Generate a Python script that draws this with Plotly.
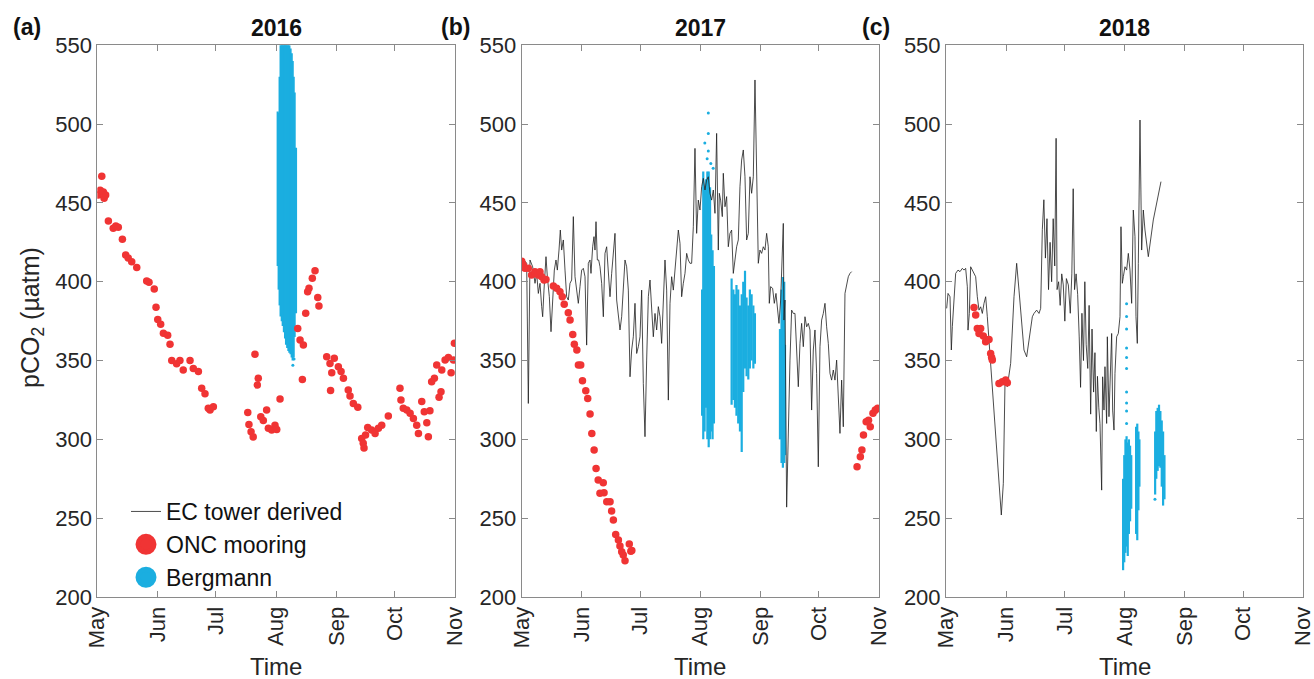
import pandas as pd
import plotly.graph_objects as go

# ---------------- data (days since 1 May of each year) ----------------
# 2016 ONC mooring
a_onc_day = [0.5, 1.5, 2.3, 3.1, 3.5, 4.3, 5.7, 8.2, 9.5, 10.8, 12.9, 14.6, 15.9, 17.7, 20.3,
             25.4, 26.6, 29.3, 30.2, 31.1, 32.6, 34.0, 36.2, 37.4, 38.3, 40.8, 42.5, 44.2, 47.7,
             49.4, 52.0, 53.7, 55.4, 57.1, 58.0, 59.7,
             77.4, 78.0, 79.1, 80.2, 81.1, 82.3, 82.8, 84.1, 85.4, 87.1, 88.0, 89.7, 91.4, 92.3, 94.0,
             103.1, 104.3, 105.5, 106.0, 107.2, 108.2, 108.9, 110.6, 112.0, 113.4, 114.0,
             118.0, 119.7, 120.0, 120.6, 121.9, 124.0, 125.4, 126.6, 129.1, 130.0, 131.7, 134.0,
             136.0, 136.8, 137.2, 138.0, 139.1, 141.1, 142.9, 144.6, 146.3, 149.7,
             155.7, 156.2, 157.4, 159.2, 160.9, 162.6, 164.3, 165.2, 166.9, 168.2, 169.5, 170.3, 171.1,
             172.0, 173.4, 174.6, 175.8, 176.8, 177.2, 178.9, 180.6, 182.0, 183.2, 183.7]
a_onc_val = [455, 458, 467, 457, 453, 455, 438.5, 434, 435.4, 434.5, 427, 417, 415, 412.7, 409,
             400.4, 399.6, 395.4, 383.8, 376, 373, 367.3, 366, 360.3, 350, 348, 350, 344, 350,
             345, 343, 332.4, 329, 319.7, 318.6, 320.7,
             317, 309.5, 304.8, 301.5, 354, 334.5, 338.7, 314.4, 312, 318.6, 307, 306, 309, 306.3, 325.6,
             370.4, 363, 338, 359.8, 380, 393.7, 395.8, 402.2, 407, 390, 384.6,
             352.4, 348.2, 331, 342.3, 351.4, 346, 343, 338.7, 331.3, 327.5, 322.8, 320.3,
             300.6, 297.5, 294.5, 302.7, 307.6, 306, 303.8, 307, 309, 314.8,
             332.4, 325, 319.7, 318.6, 316.5, 313.3, 309, 303.8, 324, 317.5, 310.5, 301.7, 318.2,
             336.6, 338.7, 347.2, 326.7, 330.2, 344, 350.3, 352, 342.3, 350.3, 361]

# 2016 Bergmann (range of the dense band per time step)
a_berg_day = [92.8, 93.3, 93.8, 94.3, 94.9, 95.4, 96.0, 96.6, 97.1, 97.7, 98.3, 98.8, 99.4,
              100.0, 100.5, 101.0, 101.5, 102.2]
a_berg_lo = [410, 395, 385, 378, 375, 372, 368, 364, 360, 358, 356, 355, 354, 352, 350, 352, 365, 380]
a_berg_hi = [508, 507, 530, 560, 560, 560, 560, 560, 560, 560, 555, 550, 548, 545, 540, 530, 520, 485]
a_berg_pt_day = [100.6, 101.2]
a_berg_pt_val = [347, 351]

# 2017 EC tower
b_ec_day = [0.0, 1.19, 2.56, 3.42, 4.27, 5.65, 6.85, 7.71, 8.57, 9.42, 10.28, 10.8, 11.48, 12.51,
            13.2, 14.23, 15.09, 15.95, 16.8, 17.66, 18.35, 19.21, 19.89, 20.58, 21.44, 22.3, 23.16,
            24.01, 24.87, 25.73, 26.59, 27.45, 28.3, 29.16, 30.02, 30.88, 31.74, 32.6, 33.45, 34.31,
            35.17, 35.68, 36.54, 37.23, 37.74, 38.26, 38.95, 39.63, 40.32, 41.18, 42.04, 42.89,
            43.75, 44.61, 45.47, 46.33, 47.19, 48.04, 48.9, 49.76, 50.62, 51.48, 52.34, 53.19,
            54.05, 54.91, 55.77, 56.63, 57.48, 58.34, 59.2, 60.06, 60.92, 61.78, 62.63, 63.49,
            64.35, 65.21, 66.07, 66.93, 67.78, 68.64, 69.5, 70.36, 71.22, 72.07, 72.93, 73.79,
            74.65, 75.51, 76.37, 77.22, 78.08, 78.94, 79.8, 80.66, 81.52, 82.37, 83.23, 84.09,
            84.95, 85.8, 86.66, 87.52, 88.38, 89.23, 90.09, 90.95, 91.81, 92.67, 93.53, 94.38,
            95.24, 96.1, 96.96, 97.82, 98.68, 99.53, 100.39, 101.25, 101.76, 102.45, 103.31,
            103.82, 104.68, 105.54, 106.4, 107.26, 108.11, 108.97, 109.83, 110.69, 111.55, 112.41,
            113.26, 114.12, 114.98, 115.84, 116.7, 117.56, 118.41, 119.27, 120.13, 120.99, 121.85,
            122.7, 123.56, 124.42, 125.28, 126.14, 127.0, 127.51, 128.2, 129.23, 130.08, 130.94,
            131.63, 132.49, 133.35, 134.38, 134.72, 135.06, 135.58, 136.44, 137.3, 138.15, 139.01,
            139.87, 140.73, 141.59, 142.44, 143.3, 144.16, 145.02, 145.88, 146.74, 147.59, 148.45,
            149.31, 150.17, 151.03, 151.88, 152.74, 153.6, 154.46, 155.32, 156.18, 157.03, 157.89,
            158.75, 159.61, 160.47, 161.33, 162.18, 163.04, 163.9, 164.76, 165.62, 166.48, 167.33,
            168.19, 169.05, 169.91]
b_ec_val = [410.6, 413.8, 411.7, 322.8, 413.8, 409.5, 399, 405.3, 392.6, 399, 384.2, 377.8, 394.7, 415.9,
            403.2, 390.5, 368.3, 386.3, 407.4, 413.8, 407.4, 420.1, 432.8, 420.1, 426.5, 407.4, 390.5,
            388.4, 399, 401.1, 441.3, 403.2, 392.6, 386.3, 396.9, 407.4, 408.5, 403.2, 359.8, 411.7,
            413.8, 405.3, 422.2, 428.6, 420.1, 438.1, 413.8, 413.8, 409.5, 399, 377.8, 418,
            422.2, 403.2, 390.5, 405.3, 420.1, 430.7, 388.4, 379.9, 369.4, 377.8, 394.7, 413.8,
            409.5, 394.7, 339.7, 356.7, 365.1, 386.3, 354.5, 358.8, 365.1, 394.7, 335.5, 301.7,
            350.3, 390.5, 401.1, 377.8, 365.1, 379.9, 369.4, 384.2, 377.8, 360.9, 388.4, 413.8,
            394.7, 324.9, 386.3, 403.2, 394.7, 409.5, 420.1, 432.8, 424.3, 390.5, 399, 405.3,
            418, 413.8, 411.7, 411.7, 434.9, 484.6, 430.7, 451.8, 445.5, 460.3, 465.6, 458.2,
            464.5, 466.6, 456.1, 451.8, 458.2, 443.4, 494.1, 420.1, 456.1, 451.8, 441.3,
            468.8, 447.6, 454, 422.2, 430.7, 432.8, 405.3, 413.8, 422.2, 426.5, 460.3,
            477.2, 483.6, 466.6, 426.5, 430.7, 466.6, 456.1, 466.6, 528, 456.1, 411.7,
            420.1, 418, 422.2, 420.1, 430.7, 422.2, 386.3, 396.9, 395.8, 386.3, 392.6,
            383.1, 373.6, 388.4, 434.9, 437, 375.7, 388.4, 257, 308, 350.3, 382,
            379.9, 379.9, 358.8, 333.4, 360.9, 373.6, 358.8, 377.8, 371.4, 373.6, 369.4,
            318.6, 356.7, 369.4, 341.9, 282.6, 358.8, 375.7, 379.9, 386.3, 371.4, 360.9,
            341.9, 337.6, 344, 337.6, 350.3, 324.9, 303.8, 337.6, 308, 392.6, 396.9,
            403.2, 405.3, 406.4]

# 2017 ONC mooring
b_onc_day = [0.0, 0.8, 1.7, 3.4, 5.1, 6.8, 8.5, 9.4, 10.3, 11.5, 12.5, 16.3, 18.0, 19.7, 20.9, 21.9,
             24.0, 24.9, 26.3, 27.1, 28.4, 29.2, 30.4, 31.3, 33.0, 34.0, 35.2, 36.1, 37.3, 38.3,
             39.4, 40.3, 42.0, 42.4, 43.8, 45.5, 46.3, 47.2, 48.4, 49.8, 50.6, 51.5, 52.3, 53.2,
             55.4, 56.2, 56.7,
             172.7, 174.4, 175.2, 176.0, 177.4, 178.6, 179.5, 180.9, 182.1, 183.3]
b_onc_val = [413, 410.6, 408.5, 408.5, 404.3, 406.4, 404.3, 406.4, 403.2, 401.1, 401.5, 397.3, 395.8,
             393.7, 390.5, 385.8, 380.3, 375.7, 366.6, 360.3, 356.7, 347.2, 347.2, 337.2, 330.8, 326,
             316.1, 303.8, 293.2, 281.6, 274.2, 265.8, 272.5, 266.1, 260.4, 260.4, 254.5, 248.8,
             239.7, 236.1, 232.3, 228.7, 226.6, 223, 233.6, 229.1, 229.5,
             282.6, 289, 293.2, 302.7, 311.2, 312.2, 308, 316.5, 318.6, 319.7]

# 2017 Bergmann
b_berg_day = [92.9, 93.5, 94.2, 94.9, 95.6, 96.3, 97.0, 97.6, 98.3, 99.0,
              108.1, 109.0, 109.8, 110.6, 111.5, 112.4, 113.3, 114.1, 115.0, 115.8, 116.7, 117.5,
              118.4, 119.3, 120.1,
              133.0, 133.8, 134.5, 135.2, 135.6]
b_berg_lo = [315, 300, 305, 320, 300, 295, 300, 305, 300, 310,
             322, 325, 320, 315, 310, 305, 292, 330, 345, 340, 338, 345, 350, 345, 348,
             300, 285, 282, 285, 290]
b_berg_hi = [395, 470, 460, 465, 470, 470, 460, 430, 420, 410,
             402, 395, 392, 398, 395, 385, 392, 400, 407, 390, 385, 395, 392, 385, 380,
             370, 395, 403, 400, 360]
b_berg_pt_day = [96.1, 96.1, 96.1, 95.5, 94.3, 97.4, 98.6]
b_berg_pt_val = [507, 494, 483, 478, 488, 475, 472]

# 2018 EC tower
c_ec_day = [0.34, 1.03, 2.06, 2.75, 3.26, 4.12, 4.98, 6.18, 7.21, 8.41, 9.27, 10.13, 10.99, 11.33,
            12.02, 12.7, 13.56, 14.42, 15.28, 16.13, 16.99, 17.85, 18.71, 19.57, 20.43, 21.28,
            23.0, 24.72, 26.43, 28.49, 29.52, 30.38, 31.58, 33.3, 35.02, 36.39, 37.59, 38.45,
            39.31, 40.16, 41.54, 42.74, 43.6, 44.46, 45.31, 46.69, 47.89, 48.75, 49.6,
            50.4, 51.2, 52.0, 52.8, 53.6, 54.4, 55.2, 56.0, 56.7, 57.2, 58.0, 58.8, 59.6, 60.4,
            61.2, 62.0, 63.0, 64.0, 64.8, 65.5, 66.2, 67.0, 67.8, 68.6, 69.3, 70.0, 70.8, 71.5,
            72.2, 73.0, 73.7, 74.5, 75.2, 76.0, 76.7, 77.4, 78.0, 78.7, 79.3, 80.16, 80.67,
            81.36, 81.87, 82.73, 83.08, 83.93, 84.45, 85.31, 85.82, 86.51, 87.02, 87.88, 88.74,
            89.6, 90.11, 90.8, 91.32, 92.17, 93.03, 93.89, 94.75, 95.61, 96.46, 97.32, 97.84,
            98.52, 99.04, 99.55, 99.9, 100.76, 101.61, 102.47, 104.19, 106.76, 110.71]
c_ec_val = [383.1, 392.6, 390.5, 356.7, 371.5, 390.5, 405.3, 407.4, 406.4, 408.5, 407.4, 408.5, 396.8, 369.3,
            379.9, 409.5, 407.4, 405.3, 403.2, 390.5, 382, 384.1, 379.9, 386.3, 390.5, 377.8,
            348.2, 314.4, 284.7, 252, 272.1, 335.5, 333.4, 348.2, 390.5, 411.7, 394.7, 379.9,
            365.1, 356.7, 352.4, 363, 371.5, 377.8, 379.9, 382, 379.9, 383.1, 433,
            452, 415, 440, 395, 425, 400, 440, 410, 491, 395, 400, 385, 405, 398,
            375, 402, 398, 380, 405, 459, 395, 405, 392, 365, 333, 380, 350, 400,
            360, 345, 385, 316, 370, 330, 355, 305, 340, 320, 310, 267.8, 339.7,
            318.6, 346.1, 310.1, 365.1, 314.4, 331.3, 367.2, 318.6, 305.9, 341.9, 365.1, 367.2,
            377.8, 434.9, 399, 403.2, 409.5, 407.4, 418, 407.4, 386.3, 445.5, 428.6, 377.8,
            360.9, 411.6, 460.3, 502.6, 420.1, 445.5, 432.8, 415.9, 439.2, 463.5]

# 2018 ONC mooring
c_onc_day = [14.42, 15.28, 16.13, 16.99, 17.85, 19.22, 20.43, 20.9, 22.14, 23.0, 23.5, 23.86,
             27.29, 29.01, 30.72, 31.58]
c_onc_val = [383.7, 378.9, 370.4, 367.2, 370.4, 365.5, 361.9, 363, 363.4, 354.5, 352, 350.3,
             335.5, 336.6, 337.6, 335.9]

# 2018 Bergmann
c_berg_day = [91.2, 91.8, 92.4, 93.0, 93.6, 94.2, 94.8, 95.4,
              97.9, 98.5, 99.1, 99.6,
              107.7, 108.3, 109.0, 109.7, 110.4, 111.1, 111.8, 112.5]
c_berg_lo = [217, 222, 228, 232, 226, 240, 248, 256,
             240, 236, 255, 270,
             265, 275, 280, 283, 282, 270, 258, 262]
c_berg_hi = [275, 290, 300, 302, 298, 300, 296, 290,
             308, 310, 305, 300,
             305, 318, 320, 322, 318, 312, 305, 290]
c_berg_pt_day = [93.0, 93.0, 93.0, 93.0, 93.0, 93.0, 93.0, 93.0, 93.0, 93.0, 107.6]
c_berg_pt_val = [310, 318, 323, 330, 345, 352, 358, 370, 378, 386, 262]

years = [2016, 2017, 2018]
panel_labels = ["(a)", "(b)", "(c)"]
month_ticks = ["May", "Jun", "Jul", "Aug", "Sep", "Oct", "Nov"]
y_ticks = [200, 250, 300, 350, 400, 450, 500, 550]

# ---------------- styling ----------------
RED = "#F03434"
CYAN = "#1BAEE0"
LINE = "#1e1e1e"
TXT = "#262626"
AX = "#8a8a8a"
FONT = "Liberation Sans, Arial, sans-serif"
W, H = 1314, 679
left_px = [97.3, 521.7, 946.0]
right_px = [455.0, 879.0, 1303.3]
top_px, bot_px = 45.3, 597.0


def px_x(x):
    return x / W


def px_y(y):
    return 1 - y / H


def to_dates(year, days):
    base = pd.Timestamp(f"{year}-05-01")
    return [base + pd.Timedelta(days=d) for d in days]


def seg_xy(year, days, lo, hi):
    xs, ys = [], []
    for t, l, h in zip(to_dates(year, days), lo, hi):
        xs += [t, t, None]
        ys += [l, h, None]
    return xs, ys


fig = go.Figure()

panels = [
    (None, None, a_onc_day, a_onc_val, a_berg_day, a_berg_lo, a_berg_hi, a_berg_pt_day, a_berg_pt_val),
    (b_ec_day, b_ec_val, b_onc_day, b_onc_val, b_berg_day, b_berg_lo, b_berg_hi, b_berg_pt_day, b_berg_pt_val),
    (c_ec_day, c_ec_val, c_onc_day, c_onc_val, c_berg_day, c_berg_lo, c_berg_hi, c_berg_pt_day, c_berg_pt_val),
]

for i, (ecd, ecv, od, ov, bd, blo, bhi, bpd, bpv) in enumerate(panels):
    yr = years[i]
    xa = "x" if i == 0 else f"x{i+1}"
    ya = "y" if i == 0 else f"y{i+1}"
    bx, by = seg_xy(yr, bd, blo, bhi)
    fig.add_trace(go.Scatter(x=bx, y=by, mode="lines", line=dict(color=CYAN, width=2.2),
                             xaxis=xa, yaxis=ya, showlegend=False, hoverinfo="skip"))
    fig.add_trace(go.Scatter(x=to_dates(yr, bpd), y=bpv, mode="markers",
                             marker=dict(color=CYAN, size=3), xaxis=xa, yaxis=ya, showlegend=False))
    if ecd is not None:
        fig.add_trace(go.Scatter(x=to_dates(yr, ecd), y=ecv, mode="lines",
                                 line=dict(color=LINE, width=0.8), xaxis=xa, yaxis=ya, showlegend=False))
    fig.add_trace(go.Scatter(x=to_dates(yr, od), y=ov, mode="markers",
                             marker=dict(color=RED, size=7.5), xaxis=xa, yaxis=ya, showlegend=False))

# legend entries (panel a)
fig.add_trace(go.Scatter(x=[None], y=[None], mode="lines", name="EC tower derived",
                         line=dict(color=LINE, width=0.8), xaxis="x", yaxis="y"))
fig.add_trace(go.Scatter(x=[None], y=[None], mode="markers", name="ONC mooring",
                         marker=dict(color=RED, size=16, line=dict(color=RED, width=5)),
                         xaxis="x", yaxis="y"))
fig.add_trace(go.Scatter(x=[None], y=[None], mode="markers", name="Bergmann",
                         marker=dict(color=CYAN, size=16, line=dict(color=CYAN, width=5)),
                         xaxis="x", yaxis="y"))

layout = dict(
    width=W, height=H, margin=dict(l=0, r=0, t=0, b=0),
    paper_bgcolor="white", plot_bgcolor="white",
    font=dict(family=FONT, color=TXT, size=22),
    showlegend=True,
    legend=dict(x=px_x(126), y=px_y(490), xanchor="left", yanchor="top",
                bgcolor="rgba(0,0,0,0)", font=dict(size=23, color="#111"),
                tracegroupgap=0, itemsizing="trace"),
)
annotations = []
for i in range(3):
    yr = years[i]
    sfx = "" if i == 0 else str(i + 1)
    tickvals = [pd.Timestamp(f"{yr}-{m:02d}-01") for m in range(5, 12)]
    layout["xaxis" + sfx] = dict(
        domain=[px_x(left_px[i]), px_x(right_px[i])],
        range=[tickvals[0], tickvals[-1]],
        tickvals=tickvals, ticktext=month_ticks, tickangle=-90,
        ticks="inside", ticklen=6, tickcolor=AX, showline=True, linecolor=AX, linewidth=1,
        mirror="ticks", showgrid=False, zeroline=False, anchor="y" + sfx,
        tickfont=dict(size=22, color=TXT), automargin=False, ticklabeloverflow="allow",
    )
    layout["yaxis" + sfx] = dict(
        domain=[px_y(bot_px), px_y(top_px)],
        range=[200, 550], tickvals=y_ticks,
        ticks="inside", ticklen=6, tickcolor=AX, showline=True, linecolor=AX, linewidth=1,
        mirror="ticks", showgrid=False, zeroline=False, anchor="x" + sfx,
        tickfont=dict(size=22, color=TXT), automargin=False, ticklabeloverflow="allow",
    )
    cx = px_x((left_px[i] + right_px[i]) / 2)
    annotations.append(dict(text=f"<b>{yr}</b>", x=cx, y=px_y(28), xref="paper", yref="paper",
                            showarrow=False, font=dict(size=23, color="#111"),
                            xanchor="center", yanchor="middle"))
    annotations.append(dict(text="Time", x=cx, y=px_y(666), xref="paper", yref="paper",
                            showarrow=False, font=dict(size=24, color=TXT),
                            xanchor="center", yanchor="middle"))
lab_x = [27, 455, 876]
for i in range(3):
    annotations.append(dict(text=f"<b>{panel_labels[i]}</b>", x=px_x(lab_x[i]), y=px_y(27),
                            xref="paper", yref="paper", showarrow=False,
                            font=dict(size=23, color="#111"), xanchor="center", yanchor="middle"))
annotations.append(dict(text="pCO<sub>2</sub> (µatm)", x=px_x(32), y=px_y(318), xref="paper",
                        yref="paper", showarrow=False, textangle=-90,
                        font=dict(size=25, color=TXT), xanchor="center", yanchor="middle"))
layout["annotations"] = annotations
fig.update_layout(**layout)

fig.write_html("out.html", config={"displayModeBar": False},
               post_script="document.body.style.margin='0px';")
